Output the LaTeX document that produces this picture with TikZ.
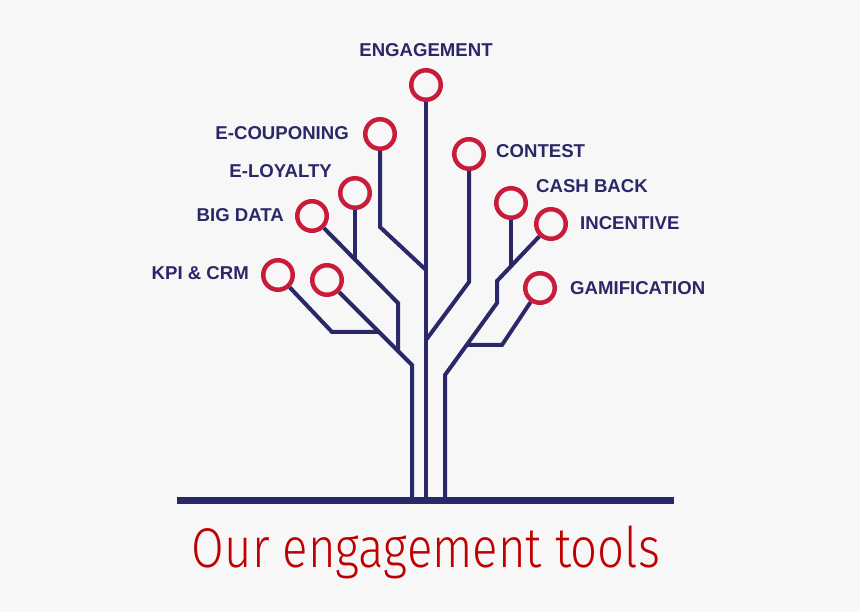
\documentclass[tikz,border=0pt]{standalone}
\usepackage{graphicx}
\usepackage{fontspec}
\setmainfont{Liberation Sans}
\newfontfamily\titlefont{Fira Sans Light}
\definecolor{bgc}{RGB}{247,247,247}
\definecolor{navy}{RGB}{42,40,104}
\definecolor{ringred}{RGB}{200,28,58}
\definecolor{titlered}{RGB}{192,0,0}
\begin{document}
\begin{tikzpicture}[x=1pt,y=-1pt,
  ring/.style={circle,draw=ringred,line width=4.5pt,minimum size=29.5pt,inner sep=0pt,outer sep=2.25pt},
  branch/.style={draw=navy,line width=4pt},
  groundline/.style={draw=navy,line width=7pt},
  lbl/.style={text=navy,inner sep=0pt,font=\fontsize{18.6}{20}\selectfont\bfseries},
]
\fill[bgc] (0,0) rectangle (860,612);
\useasboundingbox (0,0) rectangle (860,612);

% rings
\node[ring] (eng) at (426,85) {};
\node[ring] (ecoup) at (380,134) {};
\node[ring] (eloy) at (355,193) {};
\node[ring] (bigdata) at (312,216) {};
\node[ring] (kpi) at (278,275) {};
\node[ring] (blank) at (327,280) {};
\node[ring] (contest) at (469,154) {};
\node[ring] (cash) at (511,203) {};
\node[ring] (incent) at (551,224) {};
\node[ring] (gamif) at (540,288) {};

% ground
\coordinate (bl) at (177,500.5);
\coordinate (br) at (674,500.5);

% branches
\draw[branch] (eng) -- (eng |- bl);
\draw[branch] (ecoup) -- (380,227) -- (426,270);
\draw[branch] (contest) -- (469,282) -- (426,340);
\draw[branch] (bigdata) -- (398,303) -- (398,351);
\draw[branch] (eloy) -- (355,259.5);
\draw[branch] (blank) -- (412,365) -- (412,500);
\draw[branch] (kpi) -- (332,332) -- (379,332);
\draw[branch] (incent) -- (497,281) -- (497,303) -- (445,375) -- (445,500);
\draw[branch] (cash) -- (511,266);
\draw[branch] (gamif) -- (502,345) -- (466.5,345);
\draw[groundline] (bl) -- (br);

% labels
\node[lbl,anchor=base] (teng) at (426,56.5) {ENGAGEMENT};
\node[lbl,anchor=base east] (tecoup) at (349,140) {E-COUPONING};
\node[lbl,anchor=base east] (teloy) at (332,178) {E-LOYALTY};
\node[lbl,anchor=base east] (tbig) at (284,222) {BIG DATA};
\node[lbl,anchor=base east] (tkpi) at (249,280) {KPI \& CRM};
\node[lbl,anchor=base west] (tcont) at (496,158) {CONTEST};
\node[lbl,anchor=base west] (tcash) at (536,193) {CASH BACK};
\node[lbl,anchor=base west] (tinc) at (580,230) {INCENTIVE};
\node[lbl,anchor=base west] (tgam) at (570,295) {GAMIFICATION};

% title
\node[text=titlered,inner sep=0pt,anchor=base,font=\titlefont\fontsize{56}{60}\selectfont] (title) at (426,567) {\scalebox{0.845}[1]{Our engagement tools}};
\end{tikzpicture}
\end{document}
